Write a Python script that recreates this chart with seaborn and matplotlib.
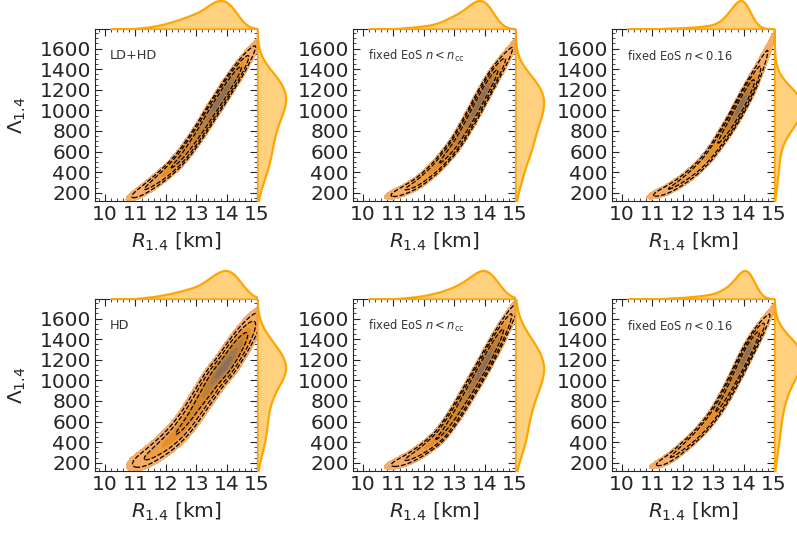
import numpy as np
import matplotlib
matplotlib.use("Agg")
import matplotlib.pyplot as plt
from matplotlib.ticker import MultipleLocator
import seaborn as sns

# radius points along each posterior ridge (km)
r_grid = [11.0, 11.2, 11.4, 11.6, 11.8, 12.0, 12.2, 12.4, 12.6, 12.8, 13.0,
          13.2, 13.4, 13.6, 13.8, 14.0, 14.2, 14.4, 14.6, 14.8, 15.0]

# tidal deformability along the ridge
lam_ldhd = [180, 215, 255, 300, 345, 395, 450, 510, 580, 660, 745,
            835, 930, 1025, 1115, 1210, 1300, 1390, 1480, 1565, 1650]
lam_ldhd_ncc = [185, 205, 235, 265, 300, 345, 395, 450, 515, 585, 660,
                750, 850, 955, 1065, 1175, 1280, 1380, 1470, 1560, 1650]
lam_ldhd_n016 = [175, 195, 220, 250, 285, 325, 370, 420, 475, 540, 615,
                 700, 790, 885, 990, 1100, 1215, 1335, 1460, 1590, 1720]
lam_hd = [190, 220, 255, 295, 340, 385, 440, 500, 570, 650, 740,
          830, 920, 1010, 1085, 1160, 1250, 1340, 1430, 1520, 1610]
lam_hd_ncc = [185, 205, 230, 260, 295, 335, 380, 430, 490, 570, 655,
              750, 850, 950, 1055, 1160, 1270, 1380, 1490, 1600, 1700]
lam_hd_n016 = [170, 190, 220, 255, 300, 350, 400, 455, 515, 585, 660,
               750, 850, 960, 1075, 1195, 1310, 1420, 1520, 1615, 1710]

# relative weight of each ridge point (height of the R_1.4 marginal)
w_ldhd = [0.02, 0.04, 0.06, 0.09, 0.13, 0.18, 0.24, 0.30, 0.37, 0.45, 0.52,
          0.62, 0.78, 0.92, 1.0, 0.95, 0.75, 0.40, 0.12, 0.03, 0.01]
w_ldhd_ncc = [0.012, 0.025, 0.04, 0.06, 0.08, 0.10, 0.13, 0.17, 0.25, 0.35, 0.45,
              0.55, 0.70, 0.88, 1.0, 0.97, 0.70, 0.30, 0.08, 0.02, 0.01]
w_ldhd_n016 = [0.002, 0.01, 0.02, 0.03, 0.03, 0.04, 0.05, 0.06, 0.08, 0.10, 0.13,
               0.20, 0.38, 0.62, 0.90, 1.0, 0.55, 0.12, 0.03, 0.01, 0.005]
w_hd = [0.015, 0.035, 0.06, 0.08, 0.11, 0.15, 0.19, 0.24, 0.29, 0.34, 0.40,
        0.50, 0.65, 0.80, 0.93, 1.0, 0.90, 0.65, 0.35, 0.12, 0.03]
w_hd_ncc = [0.012, 0.025, 0.04, 0.06, 0.08, 0.11, 0.15, 0.20, 0.25, 0.32, 0.40,
            0.50, 0.62, 0.78, 0.93, 1.0, 0.88, 0.60, 0.30, 0.10, 0.03]
w_hd_n016 = [0.001, 0.006, 0.02, 0.03, 0.04, 0.05, 0.06, 0.08, 0.10, 0.12, 0.15,
             0.22, 0.32, 0.45, 0.70, 0.95, 0.90, 0.35, 0.05, 0.01, 0.005]

panel_lams = [lam_ldhd, lam_ldhd_ncc, lam_ldhd_n016, lam_hd, lam_hd_ncc, lam_hd_n016]
panel_weights = [w_ldhd, w_ldhd_ncc, w_ldhd_n016, w_hd, w_hd_ncc, w_hd_n016]
panel_labels = ["LD+HD", r"fixed EoS $n<n_{\rm cc}$", r"fixed EoS $n<0.16$",
                "HD", r"fixed EoS $n<n_{\rm cc}$", r"fixed EoS $n<0.16$"]
# kernel width across the ridge, in screen pixels
panel_across = [2.4, 2.3, 2.1, 4.0, 2.5, 2.1]
ALONG = 6.5

XLIM = (9.67, 15.0)
YLIM = (120, 1790)
W, H = 797, 534
main_w, main_h = 162, 172
SX = main_w / (XLIM[1] - XLIM[0])
SY = main_h / (YLIM[1] - YLIM[0])

fill_cmap = sns.blend_palette(["#f5ac68", "#ee9a3a", "#e08a25", "#c98230",
                               "#a87a4a", "#8a6f5c"], as_cmap=True)


def ridge_density(r, lam, w, across):
    """Smoothed density along the ridge; kernels follow the local tangent."""
    px, py = np.asarray(r) * SX, np.asarray(lam) * SY
    tx, ty = np.gradient(px), np.gradient(py)
    norm = np.hypot(tx, ty)
    tx, ty = tx / norm, ty / norm
    gx = np.linspace(9.4, 15.4, 360)
    gy = np.linspace(40, 1900, 360)
    X, Y = np.meshgrid(gx, gy)
    dx = X[..., None] * SX - px
    dy = Y[..., None] * SY - py
    a = dx * tx + dy * ty
    c = -dx * ty + dy * tx
    dens = (np.asarray(w) * np.exp(-0.5 * (a / ALONG) ** 2
                                   - 0.5 * (c / across) ** 2)).sum(axis=-1)
    return X, Y, dens


def mass_levels(dens, masses):
    flat = np.sort(dens.ravel())[::-1]
    cum = np.cumsum(flat)
    cum /= cum[-1]
    return sorted(flat[np.searchsorted(cum, m)] for m in masses)


sns.set_style("ticks")
fig = plt.figure(figsize=(W / 100, H / 100), dpi=100)

col_left = [95, 353, 612]
row_top = [29, 299]
marg = 30

for i in range(6):
    row, col = divmod(i, 3)
    x0, y0 = col_left[col], row_top[row]
    ax = fig.add_axes([x0 / W, 1 - (y0 + main_h) / H, main_w / W, main_h / H])
    ax_top = fig.add_axes([x0 / W, 1 - y0 / H, main_w / W, marg / H])
    ax_right = fig.add_axes([(x0 + main_w) / W, 1 - (y0 + main_h) / H, marg / W, main_h / H])

    lam, w = panel_lams[i], panel_weights[i]
    X, Y, dens = ridge_density(r_grid, lam, w, panel_across[i])

    fill_lv = mass_levels(dens, [0.997, 0.93, 0.8, 0.62, 0.42, 0.24, 0.1]) + [dens.max()]
    fill_cols = [fill_cmap(v) for v in np.linspace(0, 1, len(fill_lv) - 1)]
    ax.contourf(X, Y, dens, levels=fill_lv, colors=fill_cols)
    ax.contour(X, Y, dens, levels=mass_levels(dens, [0.985, 0.93, 0.68]),
               colors="k", linestyles="--", linewidths=0.9)

    ax.set_xlim(*XLIM)
    ax.set_ylim(*YLIM)
    ax.set_xticks([10, 11, 12, 13, 14, 15])
    ax.set_yticks([200, 400, 600, 800, 1000, 1200, 1400, 1600])
    ax.xaxis.set_minor_locator(MultipleLocator(0.2))
    ax.yaxis.set_minor_locator(MultipleLocator(50))
    ax.tick_params(which="both", direction="in", top=True, right=True, labelsize=14.5, pad=3)
    ax.tick_params(which="major", length=5)
    ax.tick_params(which="minor", length=2.5)
    ax.set_xlabel(r"$R_{1.4}$ [km]", fontsize=14.5, labelpad=5)
    ax.set_ylabel(r"$\Lambda_{1.4}$" if col == 0 else "", fontsize=14.5, labelpad=8)
    ax.text(0.09, 0.845, panel_labels[i], transform=ax.transAxes,
            fontsize=9.3 if i in (0, 3) else 8.3, color=".2", va="center")

    sns.kdeplot(x=r_grid, weights=w, fill=True, color="orange", alpha=0.5,
                linewidth=1.6, bw_adjust=0.4, ax=ax_top)
    ax_top.set_xlim(*XLIM)
    ax_top.set_ylim(0, None)
    ax_top.axis("off")

    sns.kdeplot(y=lam, weights=w, fill=True, color="orange", alpha=0.5,
                linewidth=1.6, bw_adjust=0.6, ax=ax_right)
    ax_right.set_ylim(*YLIM)
    ax_right.set_xlim(0, None)
    ax_right.axis("off")

fig.savefig("out.png", dpi=100)
